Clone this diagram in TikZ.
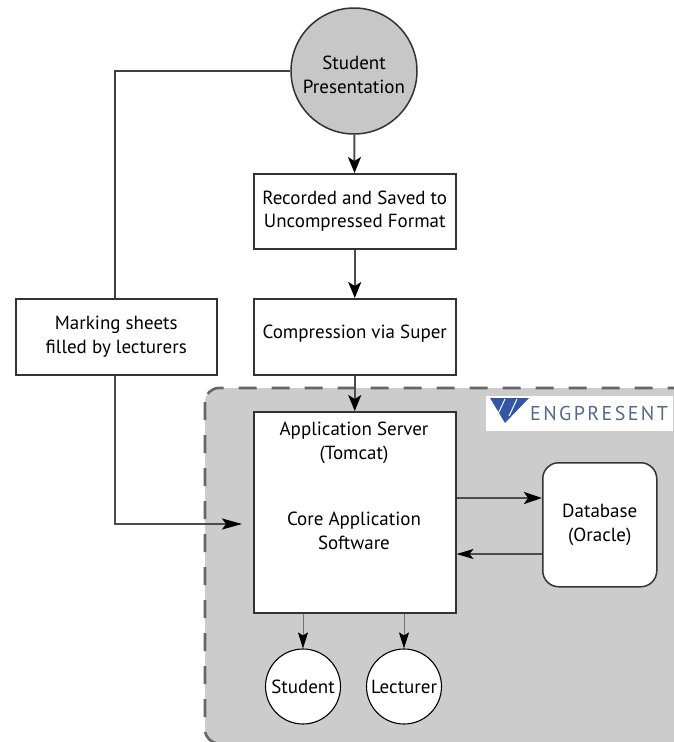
\documentclass[tikz,border=0pt]{standalone}
\usepackage{fontspec}
\setmainfont{PT Sans}
\usetikzlibrary{arrows.meta}
\definecolor{logoblue}{RGB}{50,85,165}
\definecolor{logotext}{RGB}{85,105,140}
\tikzset{
 flowbox/.style={draw=black!80,line width=1.5pt,fill=white,align=center,font=\fontsize{19}{23.5}\selectfont,inner sep=0pt},
 link/.style={draw=black!70,line width=2pt,-{Stealth[length=16pt,width=13pt,inset=4pt,color=black]}},
 thinlink/.style={draw=black!55,line width=.7pt,-{Stealth[length=16pt,width=10pt,inset=3pt,color=black]}},
 endcirc/.style={draw=black,line width=1.1pt,circle,fill=white,minimum size=75pt,inner sep=0pt,font=\fontsize{19}{23}\selectfont,align=center}
}
\begin{document}
\begin{tikzpicture}[x=1pt,y=-1pt]
\useasboundingbox (0,0) rectangle (673,742);
\fill[white] (0,0) rectangle (673,742);
\draw[draw=black!60,fill=black!20,line width=2.6pt,dash pattern=on 18pt off 15pt,rounded corners=14pt] (205,388) rectangle (700,743.5);
\node[draw=none,fill=white,minimum width=187pt,minimum height=35pt,inner sep=0pt,anchor=north west] (logo) at (486,396) {};
\fill[logoblue] (490,398) -- (529,398) -- (505,423) -- cycle;
\draw[white,line width=1pt] (505,399) -- (498,414) (517,399) -- (509,416);
\node[font=\fontsize{20}{22}\selectfont,text=logotext,anchor=west,inner sep=0pt] (logot) at (530,413) {\addfontfeature{LetterSpace=12}ENGPRESENT};
\node[circle,draw=black!80,fill=black!22,line width=1.5pt,minimum size=126pt,inner sep=0pt,align=center,font=\fontsize{19}{24}\selectfont] (pres) at (354,71) {\rule{0pt}{22pt}Student\\Presentation};
\node[flowbox,minimum width=202pt,minimum height=75pt,anchor=north west] (rec) at (253,173) {Recorded and Saved to\\Uncompressed Format};
\node[flowbox,minimum width=202pt,minimum height=76pt,anchor=north west] (comp) at (253,298) {Compression via Super\rule[-10pt]{0pt}{10pt}};
\node[flowbox,minimum width=202pt,minimum height=201pt,anchor=north west] (app) at (253,411) {};
\node[font=\fontsize{19}{23.5}\selectfont,align=center] (t1) at (354,443) {Application Server\\(Tomcat)};
\node[font=\fontsize{19}{23.5}\selectfont,align=center] (t2) at (354,531) {Core Application\\Software};
\node[flowbox,minimum width=201pt,minimum height=76pt,anchor=north west] (mark) at (15,298) {Marking sheets\\filled by lecturers};
\node[flowbox,rounded corners=16pt,minimum width=114pt,minimum height=124pt,anchor=north west] (db) at (542,462) {Database\\(Oracle)};
\node[endcirc] (stu) at (303,686.5) {Student};
\node[endcirc] (lec) at (404,686.5) {Lecturer};
\coordinate (markin) at (242,524);
\draw[link] (pres) -- (rec);
\draw[link] (rec) -- (comp);
\draw[link] (comp) -- (app.north -| comp);
\draw[link,line width=2.6pt,-{Stealth[length=18pt,width=12pt,inset=4pt,color=black]}] (app.east |- 0,498) -- (db.west |- 0,498);
\draw[link,line width=1.2pt,-{Stealth[length=17pt,width=10pt,inset=4pt,color=black]}] (db.west |- 0,554) -- (app.east |- 0,554);
\draw[draw=black!75,line width=1.5pt] (pres.west |- 0,71) -- (115,71) -- (mark.north -| 115,0);
\draw[link,line width=1.5pt,-{Stealth[length=20pt,width=11pt,inset=4pt,color=black]}] (mark.south -| 115,0) -- (115,524) -- (markin);
\draw[thinlink] (app.south -| stu) -- (stu);
\draw[thinlink] (app.south -| lec) -- (lec);
\end{tikzpicture}
\end{document}
